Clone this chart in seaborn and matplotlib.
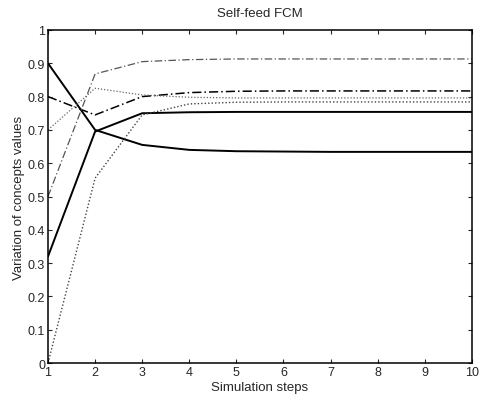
import numpy as np
import pandas as pd
import matplotlib
matplotlib.use("Agg")
import matplotlib.pyplot as plt
import seaborn as sns

steps = list(range(1, 11))
concept1 = [0.90, 0.700, 0.655, 0.640, 0.636, 0.635, 0.634, 0.634, 0.634, 0.634]
concept2 = [0.32, 0.695, 0.750, 0.753, 0.754, 0.754, 0.754, 0.754, 0.754, 0.754]
concept3 = [0.80, 0.745, 0.800, 0.812, 0.816, 0.817, 0.817, 0.817, 0.817, 0.817]
concept4 = [0.50, 0.868, 0.905, 0.911, 0.913, 0.913, 0.913, 0.913, 0.913, 0.913]
concept5 = [0.00, 0.555, 0.745, 0.778, 0.783, 0.784, 0.784, 0.784, 0.784, 0.784]
concept6 = [0.70, 0.825, 0.805, 0.798, 0.796, 0.796, 0.796, 0.796, 0.796, 0.796]

series = {"C1": concept1, "C2": concept2, "C3": concept3,
          "C4": concept4, "C5": concept5, "C6": concept6}
df = pd.concat([pd.DataFrame({"step": steps, "value": v, "concept": k})
                for k, v in series.items()], ignore_index=True)

sns.set_style("ticks")
plt.rcParams['font.family'] = ['Liberation Sans', 'DejaVu Sans']

fig = plt.figure(figsize=(4.81, 4.02), dpi=100)
ax = fig.add_axes([0.0998, 0.0945, 0.881, 0.8284])

styles = {"C1": ("-", "black", 1.4), "C2": ("-", "black", 1.4),
          "C3": ((0, (6, 2, 1, 2)), "black", 1.1), "C4": ((0, (6, 2, 1, 2)), "#555555", 0.9),
          "C5": ((0, (1, 1.5)), "#444444", 1.0), "C6": ((0, (1, 1.5)), "#666666", 0.9)}
for k in series:
    ls, c, lw = styles[k]
    sns.lineplot(data=df[df.concept == k], x="step", y="value", ax=ax,
                 color=c, linestyle=ls, linewidth=lw, legend=False)

ax.set_xlim(1, 10)
ax.set_ylim(0, 1)
ax.set_xticks(steps)
ax.set_yticks(np.round(np.arange(0, 1.01, 0.1), 1))
ax.set_yticklabels(["0", "0.1", "0.2", "0.3", "0.4", "0.5", "0.6", "0.7", "0.8", "0.9", "1"])
ax.tick_params(direction="in", top=True, right=True, labelsize=9, length=3, width=0.8, pad=2)
for s in ax.spines.values():
    s.set_linewidth(1.1)
    s.set_color("black")
ax.set_title("Self-feed FCM", fontsize=9.5, pad=10)
ax.set_xlabel("Simulation steps", fontsize=9.5, labelpad=2)
ax.set_ylabel("Variation of concepts values", fontsize=9.5, labelpad=2)

fig.savefig("out.png", dpi=100)
